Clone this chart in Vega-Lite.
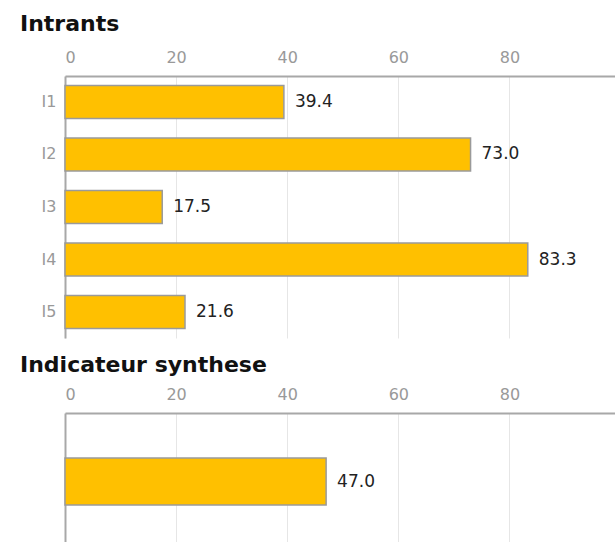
{
  "$schema": "https://vega.github.io/schema/vega-lite/v6.json",
  "padding": {"left": 20, "top": 13, "right": 0, "bottom": 0},
  "background": "white",
  "spacing": 16,
  "datasets": {
    "intrants": [
      {"code": "I1", "valeur": 39.4},
      {"code": "I2", "valeur": 73.0},
      {"code": "I3", "valeur": 17.5},
      {"code": "I4", "valeur": 83.3},
      {"code": "I5", "valeur": 21.6}
    ],
    "synthese": [
      {"code": "Synthese", "valeur": 47.0}
    ]
  },
  "config": {
    "font": "DejaVu Sans",
    "view": {"stroke": null},
    "title": {"font": "DejaVu Sans", "fontSize": 22, "fontWeight": "bold", "color": "#111111", "anchor": "start", "frame": "group", "dx": -45, "baseline": "alphabetic", "offset": 13},
    "axis": {"domainColor": "#a8a8a8", "domainWidth": 2, "ticks": false, "tickSize": 0, "labelColor": "#999999", "labelFontSize": 16, "labelFont": "DejaVu Sans", "gridColor": "#e6e6e6", "gridWidth": 1, "title": null}
  },
  "vconcat": [
    {
      "title": "Intrants",
      "width": 550,
      "height": 262,
      "data": {"name": "intrants"},
      "encoding": {
        "y": {"field": "code", "type": "nominal", "sort": null, "scale": {"paddingInner": 0.37, "paddingOuter": 0.18}, "axis": {"grid": false, "labelPadding": 9}},
        "x": {"field": "valeur", "type": "quantitative", "scale": {"domain": [0, 99], "nice": false}, "axis": {"orient": "top", "values": [0, 20, 40, 60, 80], "grid": true, "labelPadding": 11}}
      },
      "layer": [
        {"mark": {"type": "bar", "fill": "#FFC000", "stroke": "#9a9a9a", "strokeWidth": 1.5}},
        {"mark": {"type": "text", "align": "left", "dx": 11, "fontSize": 17, "color": "#222222"}, "encoding": {"text": {"field": "valeur", "type": "quantitative", "format": ".1f"}}}
      ]
    },
    {
      "title": {"text": "Indicateur synthese", "offset": 9},
      "width": 550,
      "height": 129,
      "data": {"name": "synthese"},
      "encoding": {
        "y": {"field": "code", "type": "nominal", "scale": {"paddingInner": 0, "paddingOuter": 0.872, "align": 0.549}, "axis": {"grid": false, "labels": false}},
        "x": {"field": "valeur", "type": "quantitative", "scale": {"domain": [0, 99], "nice": false}, "axis": {"orient": "top", "values": [0, 20, 40, 60, 80], "grid": true, "labelPadding": 11}}
      },
      "layer": [
        {"mark": {"type": "bar", "fill": "#FFC000", "stroke": "#9a9a9a", "strokeWidth": 1.5}},
        {"mark": {"type": "text", "align": "left", "dx": 11, "fontSize": 17, "color": "#222222"}, "encoding": {"text": {"field": "valeur", "type": "quantitative", "format": ".1f"}}}
      ]
    }
  ]
}
